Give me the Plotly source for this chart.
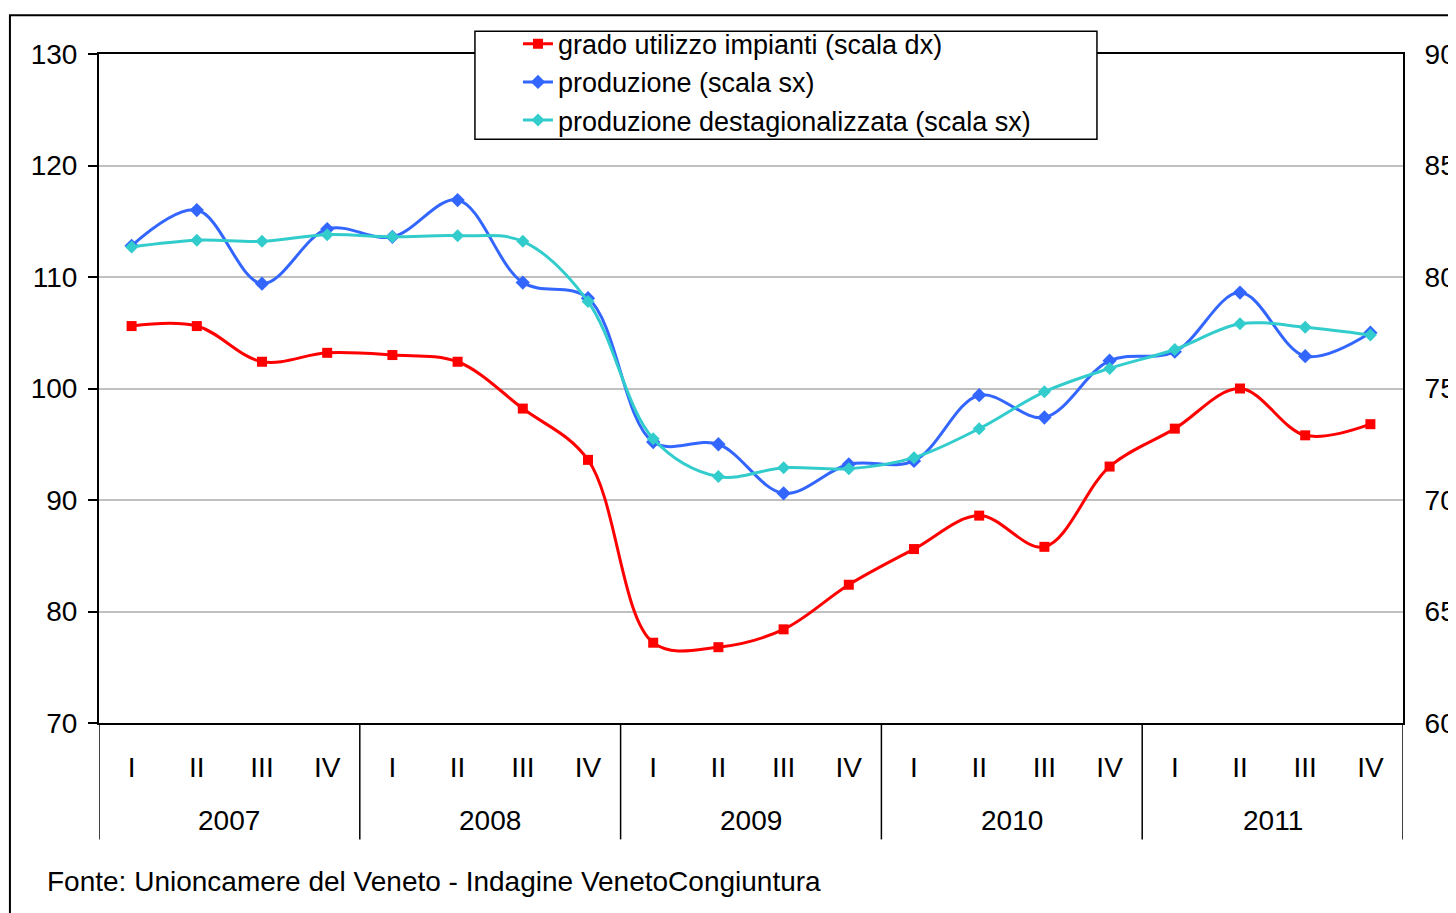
import plotly.graph_objects as go

quarters = ["I", "II", "III", "IV"]
years = ["2007", "2008", "2009", "2010", "2011"]

utilizzo = [77.8, 77.8, 76.2, 76.6, 76.5, 76.2, 74.1, 71.8,
            63.6, 63.4, 64.2, 66.2, 67.8, 69.3, 67.9, 71.5,
            73.2, 75.0, 72.9, 73.4]
produzione = [112.8, 116.0, 109.4, 114.3, 113.6, 116.9, 109.5, 108.1,
              95.2, 95.0, 90.6, 93.2, 93.5, 99.4, 97.4, 102.5,
              103.3, 108.6, 102.9, 105.0]
destag = [112.7, 113.3, 113.2, 113.8, 113.6, 113.7, 113.2, 107.8,
          95.5, 92.1, 92.9, 92.8, 93.8, 96.4, 99.7, 101.8,
          103.5, 105.8, 105.5, 104.8]

n = len(years) * len(quarters)
xs = list(range(n))
tick_text = [q for _ in years for q in quarters]

FONT = "Liberation Sans, Arial, sans-serif"

fig = go.Figure()
fig.add_trace(go.Scatter(
    x=xs, y=utilizzo, name="grado utilizzo impianti (scala dx)", yaxis="y2",
    mode="lines+markers", line=dict(color="#FF0000", width=3, shape="spline"),
    marker=dict(symbol="square", size=10, color="#FF0000")))
fig.add_trace(go.Scatter(
    x=xs, y=produzione, name="produzione (scala sx)",
    mode="lines+markers", line=dict(color="#3366FF", width=3, shape="spline"),
    marker=dict(symbol="diamond", size=11, color="#3366FF")))
fig.add_trace(go.Scatter(
    x=xs, y=destag, name="produzione destagionalizzata (scala sx)",
    mode="lines+markers", line=dict(color="#33CCCC", width=3, shape="spline"),
    marker=dict(symbol="diamond", size=10, color="#33CCCC")))

shapes = []
# year dividers
for i in range(len(years) + 1):
    xv = -0.5 + i * len(quarters)
    shapes.append(dict(type="line", xref="x", yref="paper", x0=xv, x1=xv,
                       y0=0, y1=-0.174, line=dict(color="black", width=1.5)))
# outer chart border
shapes.append(dict(type="rect", xref="paper", yref="paper",
                   x0=-0.0683, x1=1.2, y0=-0.5, y1=1.0579,
                   line=dict(color="black", width=2), layer="below"))
# legend box
shapes.append(dict(type="rect", xref="paper", yref="paper",
                   x0=0.2883, x1=0.7653, y0=0.8724, y1=1.0341,
                   fillcolor="white", line=dict(color="black", width=1.5),
                   layer="above"))

annotations = []
for i, yr in enumerate(years):
    annotations.append(dict(x=i * len(quarters) + 1.5, y=-0.1454, xref="x", yref="paper",
                            text=yr, showarrow=False, xanchor="center", yanchor="middle",
                            font=dict(size=28, color="black", family=FONT)))
annotations.append(dict(x=-54 / 1304, y=-0.2374, xref="paper", yref="paper",
                        text="Fonte: Unioncamere del Veneto - Indagine VenetoCongiuntura",
                        showarrow=False, xanchor="left", yanchor="middle",
                        font=dict(size=28, color="black", family=FONT)))

fig.update_layout(
    width=1456, height=913,
    margin=dict(l=91, r=61, t=41, b=198),
    paper_bgcolor="white", plot_bgcolor="white",
    font=dict(family=FONT, size=28, color="black"),
    showlegend=True,
    legend=dict(x=0.3213, y=1.0512, xanchor="left", yanchor="top",
                bgcolor="rgba(0,0,0,0)", borderwidth=0,
                font=dict(size=27, family=FONT), tracegroupgap=0),
    xaxis=dict(range=[-0.5, n - 0.5], tickvals=xs, ticktext=tick_text,
               showgrid=False, zeroline=False, showline=True, linecolor="black",
               linewidth=2, mirror=True, ticks="", ticklabelstandoff=18,
               tickfont=dict(size=28), automargin=False),
    yaxis=dict(range=[70, 130], dtick=10, showgrid=True, gridcolor="#C0C0C0",
               gridwidth=1.5, zeroline=False, showline=True, linecolor="black",
               linewidth=2, ticks="outside", ticklen=9, tickwidth=1.5,
               tickcolor="black", ticklabelstandoff=5, automargin=False),
    yaxis2=dict(range=[60, 90], dtick=5, overlaying="y", side="right",
                showgrid=False, zeroline=False, showline=True, linecolor="black",
                linewidth=2, ticks="", ticklabelstandoff=14, automargin=False),
    shapes=shapes, annotations=annotations,
)

fig.write_html("out.html")
